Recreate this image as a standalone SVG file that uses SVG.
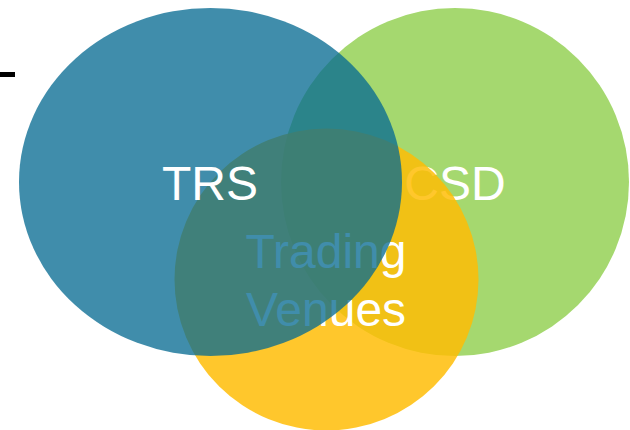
<svg xmlns="http://www.w3.org/2000/svg" width="630" height="430" viewBox="0 0 630 430">
<style>
.lbl{font-family:"Liberation Sans",Arial,sans-serif;font-size:48px;fill:#ffffff;text-anchor:middle}
</style>
<rect width="630" height="430" fill="#ffffff"/>
<rect x="0" y="72" width="15" height="5" fill="#000000"/>
<g id="csd">
<ellipse cx="455" cy="182" rx="174" ry="174" fill="#A5D86F"/>
<text class="lbl" x="455" y="200">CSD</text>
</g>
<g id="trading-venues">
<ellipse cx="326.5" cy="279.5" rx="152" ry="151" fill="#FFBC04" fill-opacity="0.84"/>
<text class="lbl" x="326" y="268">Trading</text>
<text class="lbl" x="326" y="326">Venues</text>
</g>
<g id="trs">
<ellipse cx="210.5" cy="182" rx="191.5" ry="174" fill="#066B92" fill-opacity="0.77"/>
<text class="lbl" x="210" y="200">TRS</text>
</g>
<g id="connectors"/>
</svg>
